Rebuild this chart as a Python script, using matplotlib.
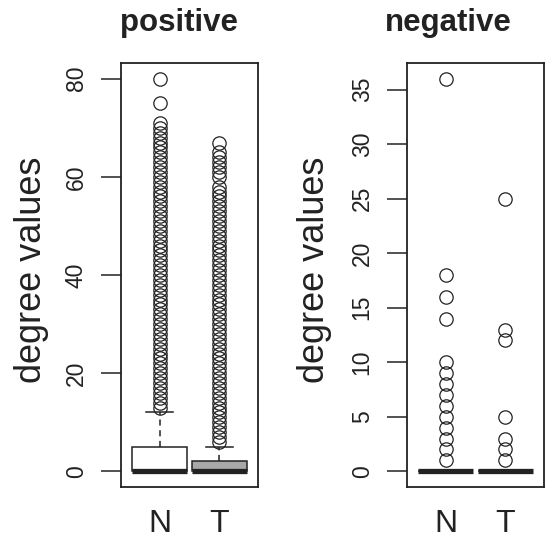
import matplotlib
matplotlib.use("Agg")
import matplotlib.pyplot as plt

plt.rcParams['font.family'] = ['Liberation Sans', 'DejaVu Sans']

# kategoriler ve paneller
groups = ["N", "T"]
panels = ["positive", "negative"]

# positive: kutu istatistikleri (N, T)
pos_q1 = [0, 0]
pos_med = [0, 0]
pos_q3 = [5, 2]
pos_whishi = [12, 5]
pos_fliers_N = [13, 14, 15, 16, 17, 18, 19, 20, 21, 22, 23, 24, 25, 26, 27, 28, 29, 30,
                31, 32, 33, 34, 35, 36, 37, 38, 39, 40, 41, 42, 43, 44, 45, 46, 47, 48,
                49, 50, 51, 52, 53, 54, 55, 56, 57, 58, 59, 60, 61, 62, 63, 64, 65, 66,
                67, 68, 69, 70, 71, 75, 80]
pos_fliers_T = [6, 7, 8, 9, 10, 11, 12, 13, 14, 15, 16, 17, 18, 19, 20, 21, 22, 23, 24,
                25, 26, 27, 28, 29, 30, 31, 32, 33, 34, 35, 36, 37, 38, 39, 40, 41, 42,
                43, 44, 45, 46, 47, 48, 49, 50, 51, 52, 53, 54, 55, 56, 57, 58, 60, 61,
                62, 63, 64, 65, 67]

# negative: kutular hep 0
neg_q1 = [0, 0]
neg_med = [0, 0]
neg_q3 = [0, 0]
neg_whishi = [0, 0]
neg_fliers_N = [1, 2, 3, 4, 5, 6, 7, 8, 9, 10, 14, 16, 18, 36]
neg_fliers_T = [1, 2, 3, 5, 12, 13, 25]

pos_ticks = [0, 20, 40, 60, 80]
neg_ticks = [0, 5, 10, 15, 20, 25, 30, 35]

box_colors = ["white", "#a8a8a8"]
ink = "#222222"


def make_stats(q1, med, q3, whishi, fliers):
    stats = []
    for i in range(len(groups)):
        stats.append(dict(q1=q1[i], med=med[i], q3=q3[i], whislo=q1[i],
                          whishi=whishi[i], fliers=fliers[i], label=groups[i]))
    return stats


W, H = 554, 540
fig = plt.figure(figsize=(W / 100, H / 100), dpi=100)

ax1 = fig.add_axes([121 / W, 53 / H, 137 / W, 424 / H])
ax2 = fig.add_axes([407 / W, 53 / H, 137 / W, 424 / H])

datasets = [
    (ax1, make_stats(pos_q1, pos_med, pos_q3, pos_whishi, [pos_fliers_N, pos_fliers_T]),
     (-3.2, 83.2), pos_ticks),
    (ax2, make_stats(neg_q1, neg_med, neg_q3, neg_whishi, [neg_fliers_N, neg_fliers_T]),
     (-1.44, 37.44), neg_ticks),
]

for ax, stats, ylim, ticks in datasets:
    bp = ax.bxp(stats, positions=[1, 2], widths=0.92, patch_artist=True,
                boxprops=dict(edgecolor=ink, linewidth=1.1),
                medianprops=dict(color=ink, linewidth=3.8, solid_capstyle='butt'),
                whiskerprops=dict(color=ink, linewidth=1.1, linestyle=(0, (4, 3))),
                capprops=dict(color=ink, linewidth=1.1),
                flierprops=dict(marker='o', markerfacecolor='none', markeredgecolor=ink,
                                markersize=9.6, markeredgewidth=0.9))
    for patch, c in zip(bp['boxes'], box_colors):
        patch.set_facecolor(c)
    ax.set_xlim(0.35, 2.65)
    ax.set_ylim(*ylim)
    ax.set_yticks(ticks)
    ax.set_yticklabels([str(t) for t in ticks], rotation=90, va='center', fontsize=16.5,
                       color=ink)
    ax.tick_params(axis='y', length=14.5, width=1.1, pad=9.5, color=ink)
    ax.tick_params(axis='x', length=0, pad=16, labelsize=23, labelcolor=ink)
    ax.set_xticklabels(groups)
    for s in ax.spines.values():
        s.set_linewidth(1.3)
        s.set_color(ink)

# başlıklar
fig.text(179 / W, 1 - 30.5 / H, panels[0], ha='center', va='baseline',
         fontsize=22.5, fontweight='bold', color=ink)
fig.text(448.5 / W, 1 - 30.5 / H, panels[1], ha='center', va='baseline',
         fontsize=22.5, fontweight='bold', color=ink)

# y eksen etiketleri
fig.text(31.5 / W, 1 - 270 / H, "degree values", rotation=90, ha='center', va='center',
         fontsize=26, color=ink)
fig.text(315 / W, 1 - 270 / H, "degree values", rotation=90, ha='center', va='center',
         fontsize=26, color=ink)

fig.savefig("out.png", dpi=100)
